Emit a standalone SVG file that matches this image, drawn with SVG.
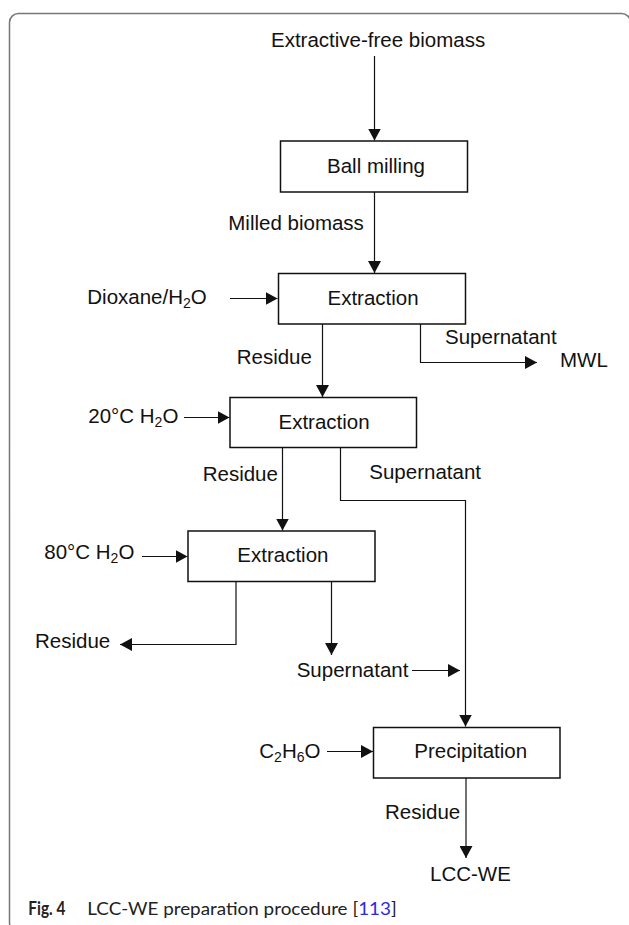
<svg xmlns="http://www.w3.org/2000/svg" width="629" height="925" viewBox="0 0 629 925">
  <style>
    .lbl { font-family: "Liberation Sans", Arial, sans-serif; font-size: 20.5px; fill: #111; }
    .sub { font-size: 14px; }
    .box { fill: #fff; stroke: #111; stroke-width: 1.5; }
    .flow { fill: none; stroke: #111; stroke-width: 1.2; }
    .cap { font-family: Lato, "Open Sans", sans-serif; font-size: 17.5px; fill: #222; }
    .cap-num { font-size: 19px; font-weight: bold; }
  </style>
  <defs>
    <marker id="arrow" markerUnits="userSpaceOnUse" markerWidth="12" markerHeight="13" refX="12" refY="6.5" orient="auto">
      <path d="M0,0 L12,6.5 L0,13 Z" fill="#111"/>
    </marker>
  </defs>

  <!-- figure frame -->
  <rect x="9.5" y="13.5" width="621" height="918" rx="9" fill="#fff" stroke="#777" stroke-width="1.5"/>

  <!-- connectors -->
  <g id="connectors" class="flow" marker-end="url(#arrow)">
    <path d="M374.5,56 V140.5"/>
    <path d="M374.5,192 V273"/>
    <path d="M230,298.5 H277.5"/>
    <path d="M322.5,324 V397"/>
    <path d="M420.5,324 V362.5 H537"/>
    <path d="M184,417.5 H229.5"/>
    <path d="M282.5,447 V530.5"/>
    <path d="M340.5,447 V500.5 H465.5 V726.5"/>
    <path d="M142,556.5 H187.5"/>
    <path d="M236,581 V644.5 H120"/>
    <path d="M331.5,581 V655"/>
    <path d="M412,670.5 H460"/>
    <path d="M327,751.5 H373"/>
    <path d="M466,778 V858"/>
  </g>

  <!-- process steps -->
  <g id="ball-milling">
    <rect class="box" x="280.5" y="141" width="187" height="51"/>
    <text class="lbl" x="327" y="173">Ball milling</text>
  </g>
  <g id="extraction-dioxane">
    <rect class="box" x="278.5" y="273.5" width="187" height="50.5"/>
    <text class="lbl" x="327.5" y="305">Extraction</text>
  </g>
  <g id="extraction-20c">
    <rect class="box" x="230" y="397.5" width="186.5" height="50"/>
    <text class="lbl" x="278.5" y="428.5">Extraction</text>
  </g>
  <g id="extraction-80c">
    <rect class="box" x="188" y="531" width="187" height="50.5"/>
    <text class="lbl" x="237.3" y="562">Extraction</text>
  </g>
  <g id="precipitation">
    <rect class="box" x="373.5" y="727.5" width="186.5" height="50.5"/>
    <text class="lbl" x="414.3" y="758">Precipitation</text>
  </g>

  <!-- inputs, outputs and stream labels -->
  <g id="feed"><text class="lbl" x="271" y="47">Extractive-free biomass</text></g>
  <g id="milled"><text class="lbl" x="228.3" y="230">Milled biomass</text></g>
  <g id="dioxane">
    <text class="lbl" x="87.3" y="303.5">Dioxane/H<tspan class="sub" dy="4">2</tspan><tspan dy="-4">O</tspan></text>
  </g>
  <g id="residue-1"><text class="lbl" x="236.7" y="363.5">Residue</text></g>
  <g id="supernatant-1"><text class="lbl" x="445" y="344">Supernatant</text></g>
  <g id="mwl"><text class="lbl" x="560" y="367">MWL</text></g>
  <g id="water-20c">
    <text class="lbl" x="88.3" y="423">20°C H<tspan class="sub" dy="4">2</tspan><tspan dy="-4">O</tspan></text>
  </g>
  <g id="residue-2"><text class="lbl" x="202.7" y="481">Residue</text></g>
  <g id="supernatant-2"><text class="lbl" x="369.3" y="478.5">Supernatant</text></g>
  <g id="water-80c">
    <text class="lbl" x="44.3" y="559">80°C H<tspan class="sub" dy="4">2</tspan><tspan dy="-4">O</tspan></text>
  </g>
  <g id="residue-3"><text class="lbl" x="35" y="647.5">Residue</text></g>
  <g id="supernatant-3"><text class="lbl" x="296.7" y="677">Supernatant</text></g>
  <g id="ethanol">
    <text class="lbl" x="259.3" y="757.5">C<tspan class="sub" dy="4">2</tspan><tspan dy="-4">H</tspan><tspan class="sub" dy="4">6</tspan><tspan dy="-4">O</tspan></text>
  </g>
  <g id="residue-4"><text class="lbl" x="385" y="818.5">Residue</text></g>
  <g id="lcc-we"><text class="lbl" x="430" y="881">LCC-WE</text></g>

  <!-- caption -->
  <text class="cap cap-num" x="28.3" y="915" textLength="37" lengthAdjust="spacingAndGlyphs">Fig. 4</text>
  <text class="cap" x="87.3" y="915" textLength="309.4" lengthAdjust="spacingAndGlyphs">LCC-WE preparation procedure [<tspan fill="#2b2bd8">113</tspan>]</text>
</svg>
